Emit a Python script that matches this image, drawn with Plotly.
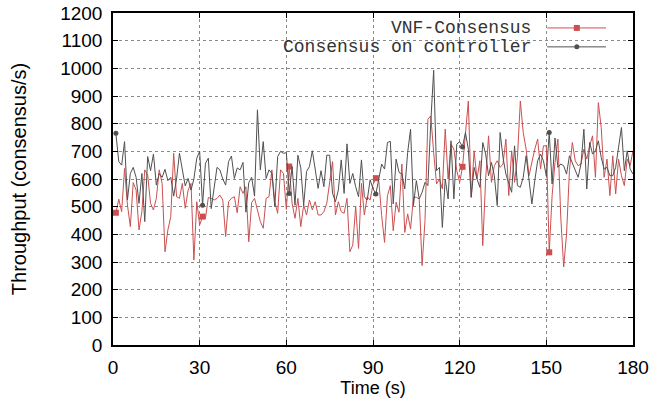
import plotly.graph_objects as go

time_s = list(range(1, 181))

vnf_consensus = [
    478, 527, 482, 638, 506, 428, 587, 560, 416, 482,
    633, 614, 512, 488, 530, 633, 584, 337, 416, 464,
    693, 536, 530, 584, 494, 560, 584, 307, 518, 434,
    464, 458, 533, 530, 524, 530, 542, 524, 392, 518,
    530, 536, 478, 572, 548, 572, 373, 515, 530, 488,
    446, 422, 530, 536, 633, 518, 476, 633, 620, 490,
    645, 512, 458, 530, 428, 506, 470, 524, 488, 518,
    470, 470, 482, 512, 597, 663, 470, 518, 482, 476,
    530, 337, 361, 500, 349, 584, 470, 536, 524, 580,
    603, 594, 468, 371, 540, 576, 413, 516, 480, 654,
    407, 474, 419, 534, 534, 528, 287, 450, 816, 828,
    696, 582, 600, 564, 780, 600, 726, 708, 630, 588,
    644, 780, 882, 534, 702, 600, 666, 359, 600, 756,
    588, 648, 666, 642, 654, 744, 540, 702, 588, 678,
    882, 768, 708, 612, 666, 708, 744, 636, 720, 720,
    335, 540, 660, 744, 462, 282, 401, 630, 732, 666,
    648, 654, 708, 672, 720, 756, 606, 876, 786, 606,
    672, 540, 684, 546, 672, 612, 576, 672, 648, 702,
]

controller_consensus = [
    765, 663, 650, 735, 524, 620, 642, 606, 512, 620,
    446, 681, 630, 690, 578, 620, 606, 635, 594, 606,
    538, 600, 693, 640, 575, 602, 560, 600, 675, 700,
    505, 657, 675, 493, 572, 642, 633, 600, 578, 663,
    683, 602, 640, 633, 660, 480, 587, 606, 538, 850,
    633, 735, 602, 633, 620, 500, 681, 700, 693, 695,
    548, 645, 505, 686, 640, 505, 627, 645, 702, 633,
    566, 630, 572, 686, 686, 548, 518, 560, 669, 548,
    727, 584, 620, 572, 536, 669, 536, 524, 597, 565,
    546, 600, 654, 636, 732, 736, 510, 672, 624, 618,
    564, 696, 780, 504, 594, 528, 552, 588, 576, 804,
    993, 630, 642, 425, 600, 528, 738, 528, 726, 735,
    716, 768, 708, 534, 642, 600, 570, 732, 690, 612,
    660, 612, 504, 768, 678, 618, 582, 552, 720, 576,
    570, 606, 684, 606, 510, 594, 666, 690, 666, 610,
    768, 582, 748, 642, 654, 648, 618, 684, 660, 630,
    606, 654, 780, 564, 732, 690, 702, 738, 678, 636,
    642, 612, 612, 642, 708, 786, 630, 702, 636, 618,
]

series_names = ["VNF-Consensus", "Consensus on controller"]
x_ticks = [0, 30, 60, 90, 120, 150, 180]
y_ticks = list(range(0, 1201, 100))

RED = "#cc4f4f"
GRAY = "#505050"
MARK_EVERY = 30

fig = go.Figure()
for vals, color, sym, msize in [
    (vnf_consensus, RED, "square", 6),
    (controller_consensus, GRAY, "circle", 5),
]:
    fig.add_trace(go.Scatter(
        x=time_s, y=vals, mode="lines",
        line=dict(color=color, width=1), showlegend=False,
        hoverinfo="skip"))
    fig.add_trace(go.Scatter(
        x=time_s[::MARK_EVERY], y=vals[::MARK_EVERY], mode="markers",
        marker=dict(color=color, symbol=sym, size=msize, line=dict(width=0)),
        showlegend=False, hoverinfo="skip"))

tick_font = dict(family="Liberation Sans, Arial, sans-serif", size=19, color="black")
axis_common = dict(
    showline=True, linecolor="black", linewidth=1.5, mirror="allticks",
    ticks="inside", ticklen=5, tickwidth=1, tickcolor="black",
    showgrid=True, gridcolor="#8a8a8a", griddash="dot", gridwidth=1,
    zeroline=False, tickfont=tick_font, automargin=False,
)

fig.update_xaxes(range=[0, 180], tickvals=x_ticks, ticklabelstandoff=4,
                 title=dict(text="Time (s)", font=dict(family="Liberation Sans, Arial", size=18, color="black"), standoff=2),
                 **axis_common)
fig.update_yaxes(range=[0, 1200], tickvals=y_ticks, ticklabelstandoff=5,
                 title=dict(text="Throughput (consensus/s)", font=dict(family="Liberation Sans, Arial", size=20, color="black"), standoff=28),
                 **axis_common)

# gnuplot-style key: text right-aligned, sample to the right
shapes = [dict(type="rect", xref="paper", yref="paper", x0=0.217, x1=0.973, y0=0.852, y1=0.997,
               fillcolor="white", line=dict(width=0), layer="between")]
annotations = []
key_rows = [(0.955, RED, "square"), (0.898, GRAY, "circle")]
for name, (yk, color, sym) in zip(series_names, key_rows):
    annotations.append(dict(xref="paper", yref="paper", x=0.808, y=yk, xanchor="right", yanchor="middle",
                            text=name, showarrow=False, height=18,
                            font=dict(family="Liberation Mono, Courier New, monospace", size=18, color="#333333")))
    shapes.append(dict(type="line", xref="paper", yref="paper", x0=0.835, x1=0.948, y0=yk, y1=yk,
                       line=dict(color=color, width=1), layer="above"))
    half = 3 if sym == "square" else 2.5
    shapes.append(dict(type="rect" if sym == "square" else "circle", xref="paper", yref="paper",
                       xsizemode="pixel", ysizemode="pixel", xanchor=0.892, yanchor=yk,
                       x0=-half, x1=half, y0=-half, y1=half,
                       fillcolor=color, line=dict(width=0), layer="above"))

fig.update_layout(
    width=667, height=412,
    margin=dict(l=113, r=34, t=13, b=67),
    paper_bgcolor="white", plot_bgcolor="white",
    shapes=shapes, annotations=annotations,
    showlegend=False,
)

# remove the page's default body margin so the figure sits at the window origin
fig.write_html("out.html", config={"displayModeBar": False},
               post_script="document.body.style.margin='0';")
